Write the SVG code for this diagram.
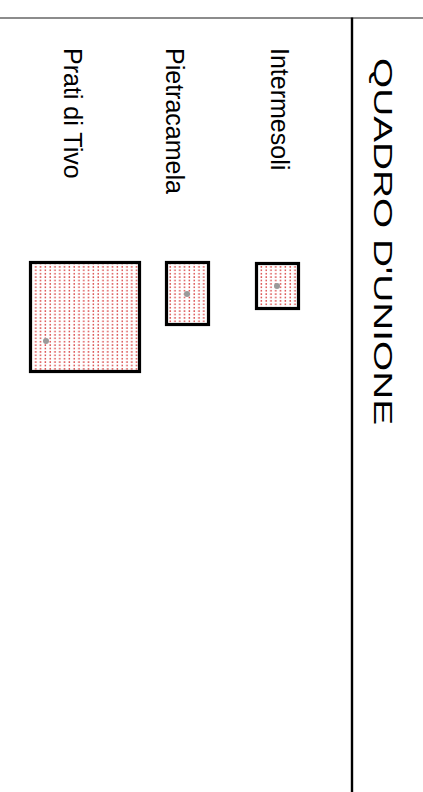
<svg xmlns="http://www.w3.org/2000/svg" width="423" height="792" viewBox="0 0 423 792">
<style>
.lbl{font-family:"Liberation Sans",Arial,sans-serif;font-size:25px;fill:#000}
.ttl{font-family:"Liberation Sans",Arial,sans-serif;font-size:25px;fill:#000}
.box{fill:url(#dots);stroke:#000;stroke-width:3.2}
.ctr{fill:#9a9a9a}
</style>
<defs>
<pattern id="dots" patternUnits="userSpaceOnUse" width="4.8" height="3.4">
<rect width="4.8" height="3.4" fill="#fff"/>
<rect x="1.5" y="1" width="1.4" height="1.4" fill="#d42a2a"/>
</pattern>
</defs>
<rect width="423" height="792" fill="#fff"/>
<g id="frame">
<line x1="0" y1="18" x2="423" y2="18" stroke="#666" stroke-width="1.3"/>
<line x1="352" y1="17.5" x2="352" y2="792" stroke="#000" stroke-width="2.4"/>
</g>
<g id="title">
<text class="ttl" transform="translate(374,58) rotate(90)" textLength="367" lengthAdjust="spacingAndGlyphs">QUADRO D'UNIONE</text>
</g>
<g id="intermesoli">
<text class="lbl" transform="translate(271,48) rotate(90)">Intermesoli</text>
<rect class="box" x="256.5" y="263.5" width="42" height="45"/>
<circle class="ctr" cx="277" cy="286" r="3"/>
</g>
<g id="pietracamela">
<text class="lbl" transform="translate(166,48) rotate(90)">Pietracamela</text>
<rect class="box" x="166.5" y="262.5" width="42" height="62"/>
<circle class="ctr" cx="187" cy="294" r="3"/>
</g>
<g id="prati">
<text class="lbl" transform="translate(64,48) rotate(90)">Prati di Tivo</text>
<rect class="box" x="30.5" y="262.5" width="109" height="109"/>
<circle class="ctr" cx="46" cy="341" r="3"/>
</g>
</svg>
